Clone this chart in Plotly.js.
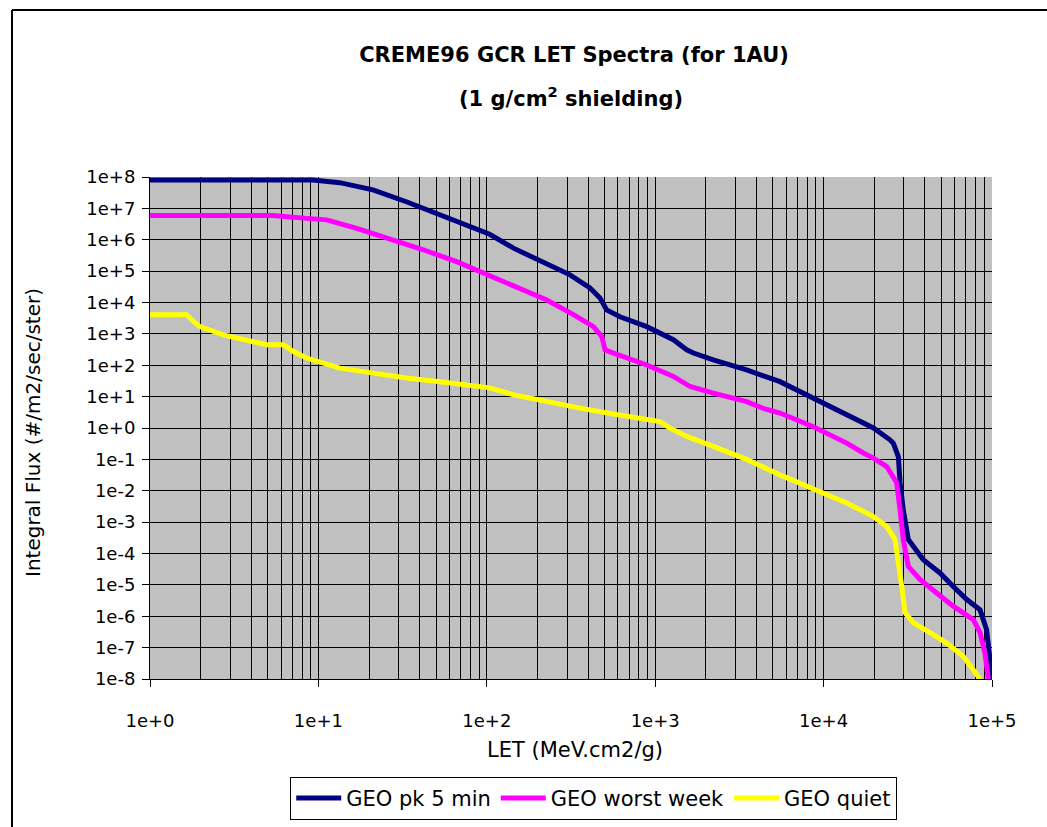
<!DOCTYPE html>
<html>
<head>
<meta charset="utf-8">
<script src="https://cdn.plot.ly/plotly-3.0.1.min.js"></script>
<style>
html, body { margin: 0; padding: 0; overflow: hidden; background: #ffffff; }
#chart { width: 1047px; height: 827px; }
</style>
</head>
<body>
<div id="chart"></div>
<script>
// ---- Data ----
const seriesNames = ['GEO pk 5 min', 'GEO worst week', 'GEO quiet'];

const pkLET  = [1, 9.3, 13.4, 21.1, 33.6, 52.7, 82.8, 104, 144, 227, 312, 410, 470, 515, 618, 891, 1282, 1538, 1687, 2213, 3491, 5508, 8690, 13710, 19770, 24770, 25940, 27800, 28440, 29720, 31840, 39080, 49090, 58880, 70790, 84920, 92900, 97280, 99540];
const pkFlux = [8.0e7, 8.0e7, 6.6e7, 3.9e7, 1.6e7, 6.2e6, 2.4e6, 1.5e6, 5.4e5, 1.8e5, 7.6e4, 2.9e4, 1.4e4, 5.8e3, 3.5e3, 1.7e3, 650, 310, 245, 148, 71, 30, 8.9, 2.6, 1.0, 0.42, 0.33, 0.12, 0.018, 2.5e-3, 2.8e-4, 6.3e-5, 2.4e-5, 8.9e-6, 3.4e-6, 1.6e-6, 3.7e-7, 4.2e-8, 1.0e-8];

const wwLET  = [1, 5.4, 8.5, 11.2, 16.9, 26.6, 42.0, 66.2, 91.2, 144, 227, 327, 430, 482, 504, 565, 891, 1282, 1611, 2213, 3491, 4385, 5508, 8690, 13710, 17220, 19770, 23710, 27160, 28440, 29720, 31840, 37330, 46880, 58880, 77450, 84920, 90780, 95060];
const wwFlux = [5.9e6, 5.9e6, 4.8e6, 4.3e6, 2.3e6, 1.1e6, 4.8e5, 2.0e5, 9.5e4, 3.6e4, 1.2e4, 4.1e3, 1.7e3, 810, 310, 245, 102, 44, 21, 13, 6.9, 4.2, 3.0, 1.1, 0.33, 0.16, 0.11, 0.059, 0.018, 2.5e-3, 2.8e-4, 3.9e-5, 1.5e-5, 5.5e-6, 2.1e-6, 7.8e-7, 3.0e-7, 6.8e-8, 1.0e-8];

const qLET  = [1, 1.65, 1.81, 1.98, 2.72, 3.93, 4.93, 6.19, 7.10, 8.51, 13.4, 21.2, 33.4, 52.7, 83.2, 104, 144, 227, 357, 564, 891, 1069, 1225, 1538, 2213, 3491, 5508, 8690, 13710, 19770, 23710, 26550, 27800, 29110, 30480, 34120, 42850, 53830, 67610, 77450, 84920];
const qFlux = [4.1e3, 4.1e3, 2.5e3, 1.7e3, 930, 560, 450, 450, 275, 170, 81, 56, 39, 30, 22, 19, 11.5, 6.9, 4.3, 2.8, 1.8, 1.6, 1.0, 0.54, 0.26, 0.1, 0.032, 0.011, 4.1e-3, 1.5e-3, 7.2e-4, 2.8e-4, 6.3e-5, 8.9e-6, 1.3e-6, 6.2e-7, 3.0e-7, 1.4e-7, 5.2e-8, 2.0e-8, 1.0e-8];

const xTickVals = [1, 10, 100, 1000, 10000, 100000];
const xTickText = ['1e+0', '1e+1', '1e+2', '1e+3', '1e+4', '1e+5'];
const yTickVals = [1e8, 1e7, 1e6, 1e5, 1e4, 1e3, 1e2, 1e1, 1e0, 1e-1, 1e-2, 1e-3, 1e-4, 1e-5, 1e-6, 1e-7, 1e-8];
const yTickText = ['1e+8', '1e+7', '1e+6', '1e+5', '1e+4', '1e+3', '1e+2', '1e+1', '1e+0', '1e-1', '1e-2', '1e-3', '1e-4', '1e-5', '1e-6', '1e-7', '1e-8'];

const titleLine1 = 'CREME96 GCR LET Spectra (for 1AU)';
const titleLine2 = '(1 g/cm<sup>2</sup> shielding)';
const xTitle = 'LET (MeV.cm2/g)';
const yTitle = 'Integral Flux (#/m2/sec/ster)';

// minor gridline positions (2..9 within each decade)
const xMinorVals = [];
for (let d = 0; d < 5; d++) {
  for (let m = 2; m <= 9; m++) xMinorVals.push(m * Math.pow(10, d));
}

const FONT = 'DejaVu Sans, Arial, sans-serif';

const traces = [
  { x: pkLET, y: pkFlux, name: seriesNames[0], type: 'scatter', mode: 'lines',
    line: { color: '#000080', width: 5 } },
  { x: wwLET, y: wwFlux, name: seriesNames[1], type: 'scatter', mode: 'lines',
    line: { color: '#FF00FF', width: 5 } },
  { x: qLET, y: qFlux, name: seriesNames[2], type: 'scatter', mode: 'lines',
    line: { color: '#FFFF00', width: 5 } }
];

const layout = {
  width: 1047, height: 827,
  margin: { l: 150, r: 55, t: 177, b: 148, pad: 0, autoexpand: false },
  paper_bgcolor: '#ffffff',
  plot_bgcolor: '#C0C0C0',
  font: { family: FONT, color: '#000000', size: 18 },
  showlegend: true,
  title: {
    text: titleLine1,
    font: { family: FONT, size: 21, weight: 'bold', color: '#000000' },
    x: 574 / 1047, xanchor: 'center', xref: 'container',
    y: 1 - 55 / 827, yanchor: 'middle', yref: 'container'
  },
  xaxis: {
    type: 'log', range: [0, 5],
    tickmode: 'array', tickvals: xTickVals, ticktext: xTickText,
    ticks: 'outside', ticklen: 7, tickcolor: '#000000', tickwidth: 1,
    ticklabelstandoff: 18,
    showgrid: true, gridcolor: '#000000', gridwidth: 1,
    minor: { tickmode: 'array', tickvals: xMinorVals, showgrid: true, gridcolor: '#000000', gridwidth: 1, ticks: '' },
    showline: true, linecolor: '#000000', linewidth: 1, mirror: false,
    zeroline: false,
    tickfont: { family: FONT, size: 18, color: '#000000' }
  },
  yaxis: {
    type: 'log', range: [-8, 8],
    tickmode: 'array', tickvals: yTickVals, ticktext: yTickText,
    ticks: 'outside', ticklen: 7, tickcolor: '#000000', tickwidth: 1,
    ticklabelstandoff: 3,
    showgrid: true, gridcolor: '#000000', gridwidth: 1,
    showline: true, linecolor: '#000000', linewidth: 1, mirror: false,
    zeroline: false,
    tickfont: { family: FONT, size: 18, color: '#000000' }
  },
  legend: {
    orientation: 'h',
    x: 0.527, xanchor: 'center',
    y: -0.195, yanchor: 'top',
    bgcolor: '#ffffff', bordercolor: '#000000', borderwidth: 1,
    font: { family: FONT, size: 21, color: '#000000' },
    itemwidth: 45
  },
  annotations: [
    { text: titleLine2, xref: 'paper', yref: 'paper', x: 0.5, y: (679 - 97) / 502,
      xanchor: 'center', yanchor: 'middle', showarrow: false,
      font: { family: FONT, size: 21, weight: 'bold', color: '#000000' } },
    { text: xTitle, xref: 'paper', yref: 'paper', x: 0.505, y: (679 - 750) / 502,
      xanchor: 'center', yanchor: 'middle', showarrow: false,
      font: { family: FONT, size: 21, color: '#000000' } },
    { text: yTitle, xref: 'paper', yref: 'paper', x: (33 - 150) / 842, y: 0.49,
      xanchor: 'center', yanchor: 'middle', showarrow: false, textangle: -90,
      font: { family: FONT, size: 20, color: '#000000' } }
  ],
  shapes: [
    { type: 'line', xref: 'paper', yref: 'paper', x0: (12 - 150) / 842, x1: (12 - 150) / 842,
      y0: -0.31, y1: (679 - 10) / 502, line: { color: '#000000', width: 2 } },
    { type: 'line', xref: 'paper', yref: 'paper', x0: (12 - 150) / 842, x1: 1.08,
      y0: (679 - 10) / 502, y1: (679 - 10) / 502, line: { color: '#000000', width: 2 } }
  ]
};

Plotly.newPlot('chart', traces, layout, { displayModeBar: false, staticPlot: true });
</script>
</body>
</html>
